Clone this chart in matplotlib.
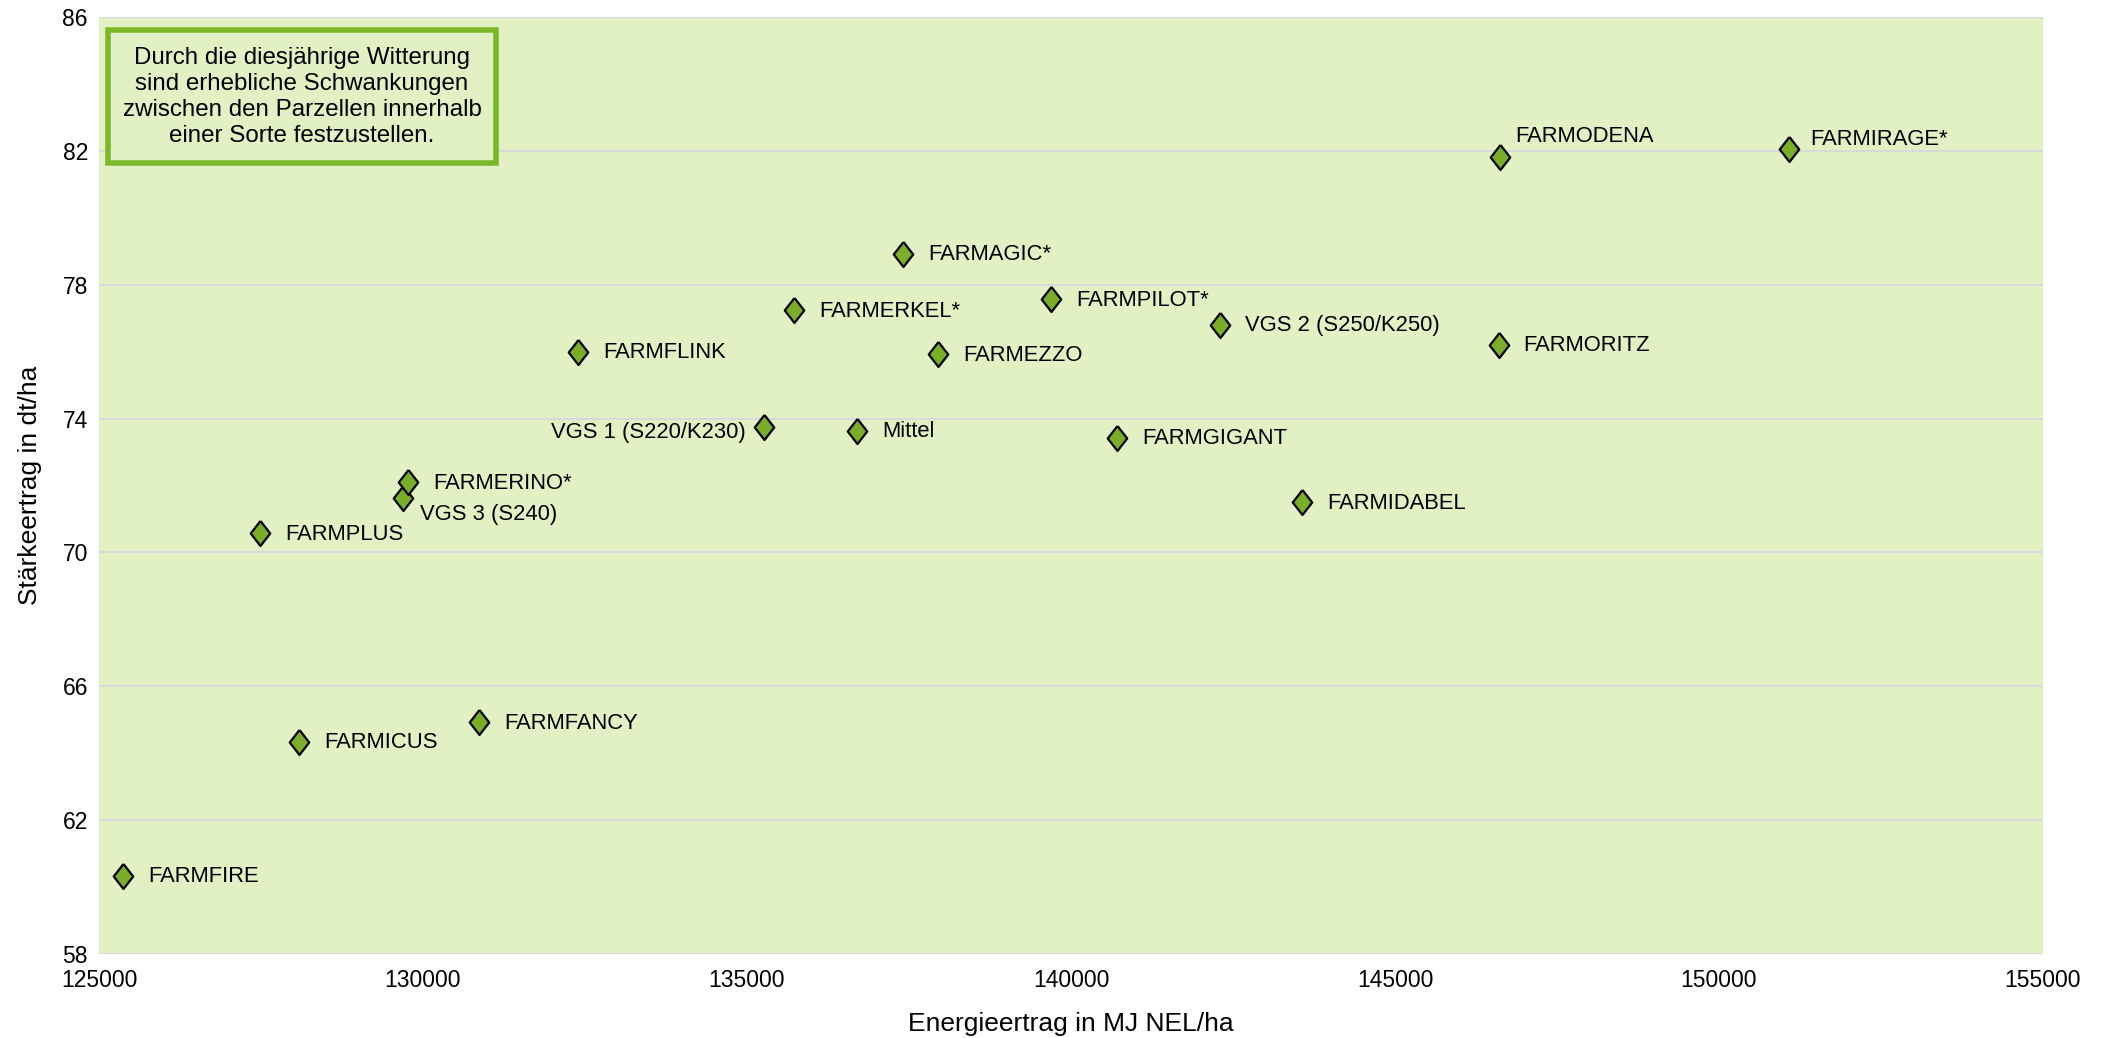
import matplotlib.pyplot as plt
from matplotlib.patches import FancyBboxPatch

plt.rcParams['font.family'] = ['Liberation Sans', 'DejaVu Sans']

# data
sorten = ['FARMFIRE', 'FARMICUS', 'FARMFANCY', 'FARMPLUS', 'VGS 3 (S240)',
          'FARMERINO*', 'FARMFLINK', 'VGS 1 (S220/K230)', 'Mittel', 'FARMERKEL*',
          'FARMAGIC*', 'FARMEZZO', 'FARMPILOT*', 'FARMGIGANT', 'VGS 2 (S250/K250)',
          'FARMIDABEL', 'FARMODENA', 'FARMORITZ', 'FARMIRAGE*']
energie = [125370, 128090, 130870, 127490, 129690,
           129770, 132390, 135270, 136700, 135730,
           137410, 137950, 139690, 140710, 142300,
           143570, 146620, 146600, 151080]
staerke = [60.34, 64.35, 64.92, 70.58, 71.62,
           72.10, 76.00, 73.75, 73.63, 77.24,
           78.93, 75.92, 77.57, 73.43, 76.80,
           71.50, 81.82, 76.20, 82.06]

x_ticks = [125000, 130000, 135000, 140000, 145000, 150000, 155000]
y_ticks = [58, 62, 66, 70, 74, 78, 82, 86]

note = ('Durch die diesjährige Witterung\nsind erhebliche Schwankungen\n'
        'zwischen den Parzellen innerhalb\neiner Sorte festzustellen.')

# label placement (pixels), default right of marker
label_pos = {
    'VGS 1 (S220/K230)': (-19, -6, 'right'),
    'VGS 3 (S240)': (17, -16, 'left'),
    'FARMODENA': (15, 20, 'left'),
    'FARMIRAGE*': (21, 9, 'left'),
}

bg = '#e2f1c4'
green = '#7aae28'

fig = plt.figure(figsize=(21.08, 10.38), dpi=100)
ax = fig.add_axes([99 / 2108, 1 - 954 / 1038, (2043 - 99) / 2108, (954 - 17) / 1038])
ax.set_facecolor(bg)

diamond = [(0, 1), (0.78, 0), (0, -1), (-0.78, 0), (0, 1)]
ax.plot(energie, staerke, linestyle='none', marker=diamond, markersize=18,
        markerfacecolor=green, markeredgecolor='black', markeredgewidth=1.6, zorder=3)

for name, x, y in zip(sorten, energie, staerke):
    dx, dy, ha = label_pos.get(name, (25, -1, 'left'))
    ax.annotate(name, (x, y), xytext=(dx, dy), textcoords='offset pixels',
                ha=ha, va='center', fontsize=15.8, zorder=4)

ax.set_xlim(125000, 155000)
ax.set_ylim(58, 86)
ax.set_xticks(x_ticks)
ax.set_yticks(y_ticks)
ax.tick_params(axis='x', length=0, labelsize=16.5, pad=11)
ax.tick_params(axis='y', length=0, labelsize=16.5, pad=8)
ax.grid(axis='y', color='#d9d9d9', linewidth=1.5)
ax.set_axisbelow(True)
for s in ax.spines.values():
    s.set_visible(False)

ax.set_xlabel('Energieertrag in MJ NEL/ha', fontsize=19, labelpad=14)
ax.set_ylabel('Stärkeertrag in dt/ha', fontsize=19, labelpad=15)

box = FancyBboxPatch((108 / 2108, 1 - 163 / 1038), (496 - 108) / 2108, (163 - 30) / 1038,
                     boxstyle='square,pad=0', transform=fig.transFigure,
                     facecolor=bg, edgecolor='#7ab829', linewidth=4, zorder=5)
fig.patches.append(box)
fig.text((108 + 496) / 2 / 2108, 1 - 97 / 1038, note, ha='center', va='center',
         fontsize=17.4, linespacing=1.25, zorder=6)

fig.savefig('out.png', dpi=100)
